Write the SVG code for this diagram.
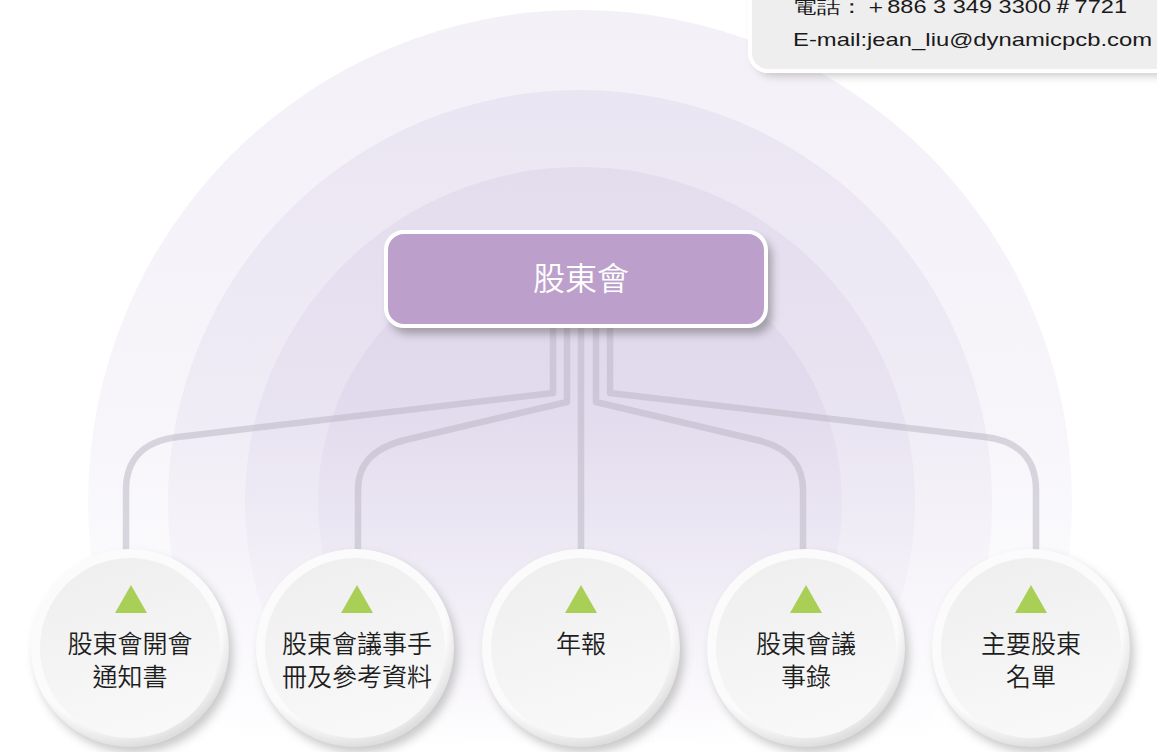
<svg xmlns="http://www.w3.org/2000/svg" width="1157" height="752" viewBox="0 0 1157 752">
<defs>
<linearGradient id="bgG" gradientUnits="userSpaceOnUse" x1="0" y1="10" x2="0" y2="752">
<stop offset="0" stop-color="#9b84c2" stop-opacity="0.12"/>
<stop offset="0.55" stop-color="#9b84c2" stop-opacity="0.08"/>
<stop offset="1" stop-color="#9b84c2" stop-opacity="0"/>
</linearGradient>
<radialGradient id="ringG" cx="0.45" cy="0.4" r="0.6">
<stop offset="0.85" stop-color="#fbfbfb"/>
<stop offset="1" stop-color="#dedede"/>
</radialGradient>
<linearGradient id="discG" x1="0" y1="0" x2="0.3" y2="1">
<stop offset="0" stop-color="#eeeeee"/>
<stop offset="1" stop-color="#f8f8f8"/>
</linearGradient>
<filter id="sh" x="-30%" y="-30%" width="160%" height="160%">
<feGaussianBlur stdDeviation="5"/>
</filter>
<filter id="bsh" x="-10%" y="-30%" width="120%" height="160%">
<feGaussianBlur stdDeviation="4"/>
</filter>
</defs>
<style>
.cn{fill:none;stroke:#bcb8c4;stroke-opacity:0.55;stroke-width:6.5;stroke-linejoin:round}
.lbl{font-family:"Noto Sans CJK TC","Noto Sans CJK SC",sans-serif;font-size:25px;font-weight:350;fill:#1e1e1e;text-anchor:middle}
.tri{fill:#a9cf56}
.ring{fill:url(#ringG)}
.disc{fill:url(#discG)}
.csh{fill:#8a8a8a;opacity:0.45;filter:url(#sh)}
.info{font-family:"Liberation Sans",Arial,sans-serif;font-size:19px;fill:#1a1a1a}
</style>
<rect width="1157" height="752" fill="#ffffff"/>
<g id="background">
<circle cx="580" cy="502" r="492" fill="url(#bgG)"/>
<circle cx="580" cy="502" r="412" fill="url(#bgG)"/>
<circle cx="580" cy="502" r="335" fill="url(#bgG)"/>
<circle cx="580" cy="502" r="262" fill="url(#bgG)"/>
</g>
<g id="info-box">
<rect x="754" y="-30" width="440" height="106" rx="20" fill="#6a6a6a" opacity="0.35" filter="url(#bsh)"/>
<rect x="750" y="-30" width="430" height="101" rx="18" fill="#eeeeee" stroke="#ffffff" stroke-width="4"/>
<text class="info" x="793" y="13" textLength="334" lengthAdjust="spacingAndGlyphs">電話：＋886 3 349 3300＃7721</text>
<text class="info" x="793" y="46" textLength="359" lengthAdjust="spacingAndGlyphs">E-mail:jean_liu@dynamicpcb.com</text>
</g>
<g id="connectors">
<path class="cn" d="M553,326 V393 L178,437 C143,441 126,460 126,490 V550"/>
<path class="cn" d="M567,326 V402 L405,440 C372,448 358,465 358,490 V550"/>
<path class="cn" d="M581,326 V550"/>
<path class="cn" d="M596,326 V402 L757,440 C790,448 803,465 803,490 V550"/>
<path class="cn" d="M610,326 V393 L985,437 C1020,441 1036,460 1036,490 V550"/>
</g>
<g id="root">
<rect x="390" y="238" width="382" height="96" rx="18" fill="#555" opacity="0.45" filter="url(#bsh)"/>
<rect x="386" y="232" width="380" height="94" rx="18" fill="#bca0cb" stroke="#ffffff" stroke-width="4"/>
<text x="581" y="290" font-family="'Noto Sans CJK TC','Noto Sans CJK SC',sans-serif" font-size="32" font-weight="350" fill="#ffffff" text-anchor="middle">股東會</text>
</g>
<g id="n1">
<circle class="csh" cx="134" cy="654" r="99"/>
<circle class="ring" cx="130" cy="648" r="99"/>
<circle class="disc" cx="130" cy="648" r="90"/>
<polygon class="tri" points="131,585 115,613 147,613"/>
<text class="lbl" x="130" y="653">股東會開會</text>
<text class="lbl" x="130" y="686">通知書</text>
</g>
<g id="n2">
<circle class="csh" cx="359" cy="654" r="99"/>
<circle class="ring" cx="355" cy="648" r="99"/>
<circle class="disc" cx="355" cy="648" r="90"/>
<polygon class="tri" points="357,585 341,613 373,613"/>
<text class="lbl" x="357" y="653">股東會議事手</text>
<text class="lbl" x="357" y="686">冊及參考資料</text>
</g>
<g id="n3">
<circle class="csh" cx="585" cy="654" r="99"/>
<circle class="ring" cx="581" cy="648" r="99"/>
<circle class="disc" cx="581" cy="648" r="90"/>
<polygon class="tri" points="581,585 565,613 597,613"/>
<text class="lbl" x="581" y="653">年報</text>
</g>
<g id="n4">
<circle class="csh" cx="810" cy="654" r="99"/>
<circle class="ring" cx="806" cy="648" r="99"/>
<circle class="disc" cx="806" cy="648" r="90"/>
<polygon class="tri" points="806,585 790,613 822,613"/>
<text class="lbl" x="806" y="653">股東會議</text>
<text class="lbl" x="806" y="686">事錄</text>
</g>
<g id="n5">
<circle class="csh" cx="1035" cy="654" r="99"/>
<circle class="ring" cx="1031" cy="648" r="99"/>
<circle class="disc" cx="1031" cy="648" r="90"/>
<polygon class="tri" points="1031,585 1015,613 1047,613"/>
<text class="lbl" x="1031" y="653">主要股東</text>
<text class="lbl" x="1031" y="686">名單</text>
</g>
</svg>
